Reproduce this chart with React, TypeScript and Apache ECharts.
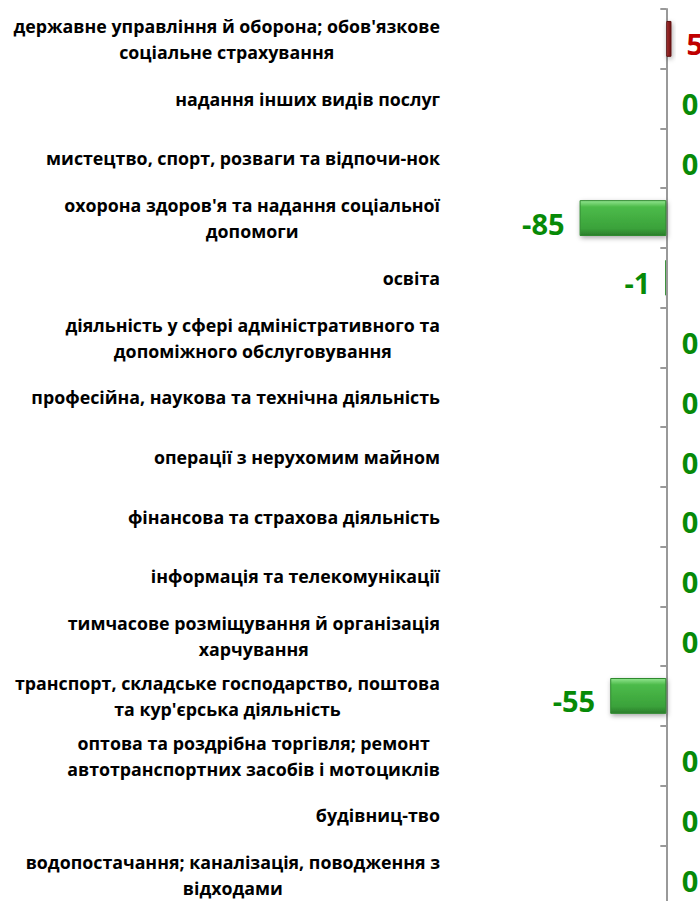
import React, { useEffect, useRef } from "react";
import * as echarts from "echarts";

const categories: string[] = [
  "державне управління й оборона; обов'язкове\nсоціальне страхування",
  "надання інших видів послуг",
  "мистецтво, спорт, розваги та відпочи-нок",
  "охорона здоров'я та надання соціальної\nдопомоги",
  "освіта",
  "діяльність у сфері адміністративного та\nдопоміжного обслуговування",
  "професійна, наукова та технічна діяльність",
  "операції з нерухомим майном",
  "фінансова та страхова діяльність",
  "інформація та телекомунікації",
  "тимчасове розміщування й організація\nхарчування",
  "транспорт, складське господарство, поштова\nта кур'єрська діяльність",
  "оптова та роздрібна торгівля; ремонт\nавтотранспортних засобів і мотоциклів",
  "будівниц-тво",
  "водопостачання; каналізація, поводження з\nвідходами",
];

const values: number[] = [5, 0, 0, -85, -1, 0, 0, 0, 0, 0, 0, -55, 0, 0, 0];

const GREEN_TEXT = "#078a07";
const RED_TEXT = "#c00000";

const greenFill = new echarts.graphic.LinearGradient(0, 0, 0, 1, [
  { offset: 0, color: "#92e58f" },
  { offset: 0.18, color: "#4cbb4a" },
  { offset: 0.8, color: "#3aa23a" },
  { offset: 1, color: "#2b7d2b" },
]);
const redFill = new echarts.graphic.LinearGradient(0, 0, 1, 0, [
  { offset: 0, color: "#c24a4a" },
  { offset: 0.4, color: "#8e2020" },
  { offset: 1, color: "#6e1414" },
]);

export default function App() {
  const ref = useRef<HTMLDivElement>(null);
  useEffect(() => {
    if (!ref.current) return;
    const chart = echarts.init(ref.current, undefined, { renderer: "svg" });
    chart.setOption({
      animation: false,
      grid: {
        left: 450,
        right: 0,
        top: 9,
        bottom: -4,
        containLabel: false,
        outerBoundsMode: "none",
      },
      xAxis: {
        type: "value",
        min: -212,
        max: 33,
        show: false,
        splitLine: { show: false },
      },
      yAxis: {
        type: "category",
        inverse: true,
        data: categories,
        axisLine: {
          show: true,
          onZero: true,
          lineStyle: { color: "#999999", width: 2 },
        },
        axisTick: {
          show: true,
          inside: false,
          length: 6,
          lineStyle: { color: "#999999", width: 2 },
        },
        axisLabel: {
          margin: 10,
          align: "right",
          fontFamily: "Open Sans",
          fontWeight: "bold",
          fontSize: 17.8,
          lineHeight: 26,
          color: "#000000",
          formatter: (v: string) =>
            v
              .split("\n")
              .map((l) => `{c|${l}}`)
              .join("\n"),
          rich: {
            c: {
              align: "center",
              fontFamily: "Open Sans",
              fontWeight: "bold",
              fontSize: 17.8,
              lineHeight: 26,
              color: "#000000",
            },
          },
        },
        splitLine: { show: false },
      },
      series: [
        {
          type: "bar",
          barWidth: "60%",
          data: values.map((v) => ({
            value: v,
            itemStyle: {
              color: v > 0 ? redFill : greenFill,
              borderColor: v > 0 ? "#5a1010" : "#2e8a2e",
              borderWidth: 1,
              shadowBlur: 5,
              shadowColor: "rgba(0,0,0,0.35)",
              shadowOffsetX: 1,
              shadowOffsetY: 2,
            },
            label: {
              show: true,
              position: v < 0 ? "left" : "right",
              distance: 15,
              offset: [0, 5],
              color: v > 0 ? RED_TEXT : GREEN_TEXT,
              fontFamily: "Open Sans",
              fontWeight: "bold",
              fontSize: 29,
            },
          })),
        },
      ],
    });
    return () => chart.dispose();
  }, []);
  return (
    <div
      ref={ref}
      style={{ position: "absolute", left: 0, top: 0, width: 700, height: 901 }}
    />
  );
}
